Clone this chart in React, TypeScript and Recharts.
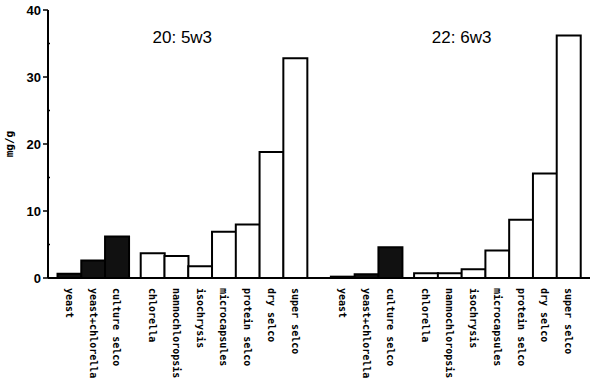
import { BarChart, Bar, XAxis, YAxis, Cell, ReferenceDot } from "recharts";

const diets = [
  "yeast",
  "yeast+chlorella",
  "culture selco",
  "chlorella",
  "nannochloropsis",
  "isochrysis",
  "microcapsules",
  "protein selco",
  "dry selco",
  "super selco",
];
const epa = [0.65, 2.6, 6.2, 3.7, 3.3, 1.75, 6.9, 8.0, 18.8, 32.8];
const dha = [0.2, 0.55, 4.6, 0.7, 0.7, 1.3, 4.1, 8.7, 15.6, 36.2];
const panelTitles = ["20: 5w3", "22: 6w3"];
const titleSlots = [4.75, 16.5];
const yTicks = [0, 5, 10, 15, 20, 25, 30, 35, 40];

// slot index per bar: half-bar gap after the 3 live feeds, full bar gap between panels
const rows = [epa, dha].flatMap((vals, g) =>
  vals.map((v, i) => ({
    pos: g * 11.5 + i + (i >= 3 ? 0.5 : 0),
    name: diets[i],
    value: v,
    live: i < 3,
  }))
);

const DietTick = ({ x, y, payload }: any) => {
  const row = rows.find((r) => r.pos === payload.value);
  return (
    <text
      transform={`translate(${x},${y + 10}) rotate(90)`}
      textAnchor="start"
      dominantBaseline="central"
      fontFamily="DejaVu Sans Mono"
      fontWeight="bold"
      fontSize={10}
      fill="#000"
    >
      {row?.name}
    </text>
  );
};

const ValueTick = ({ x, y, payload }: any) => {
  if (payload.value % 10 !== 0) {
    return <line x1={x} x2={x + 2} y1={y} y2={y} stroke="#000" strokeWidth={1.5} />;
  }
  return (
    <g>
      <line x1={x - 5} x2={x} y1={y} y2={y} stroke="#000" strokeWidth={1.5} />
      <text
        x={x - 7}
        y={y}
        textAnchor="end"
        dominantBaseline="central"
        fontFamily="Liberation Sans"
        fontWeight="bold"
        fontSize={13}
        fill="#000"
      >
        {payload.value}
      </text>
    </g>
  );
};

const UnitLabel = ({ viewBox }: any) => {
  const cy = viewBox.y + viewBox.height / 2;
  return (
    <text
      transform={`translate(9,${cy}) rotate(-90)`}
      textAnchor="middle"
      dominantBaseline="central"
      fontFamily="DejaVu Sans Mono"
      fontWeight="bold"
      fontSize={11}
      fill="#000"
    >
      mg/g
    </text>
  );
};

export default function App() {
  return (
    <div style={{ position: "absolute", left: 0, top: 0, background: "#fff" }}>
      <BarChart
        width={600}
        height={382}
        data={rows}
        margin={{ top: 10, right: 10, bottom: 0, left: 0 }}
        barCategoryGap={0}
      >
        <XAxis
          dataKey="pos"
          type="number"
          domain={[-0.9, 21.9]}
          ticks={rows.map((r) => r.pos)}
          interval={0}
          tick={<DietTick />}
          tickLine={false}
          tickSize={0}
          tickMargin={0}
          height={104}
          axisLine={{ stroke: "#000", strokeWidth: 2 }}
        />
        <XAxis
          xAxisId="top"
          orientation="top"
          type="number"
          domain={[-0.9, 21.9]}
          height={0}
          tick={false}
          tickLine={false}
          axisLine={{ stroke: "#000", strokeWidth: 2 }}
        />
        <YAxis
          type="number"
          domain={[0, 40]}
          ticks={yTicks}
          interval={0}
          width={48}
          tick={<ValueTick />}
          tickLine={false}
          tickSize={0}
          tickMargin={0}
          axisLine={{ stroke: "#000", strokeWidth: 2 }}
          label={<UnitLabel />}
        />
        <YAxis
          yAxisId="right"
          orientation="right"
          type="number"
          domain={[0, 40]}
          width={0}
          tick={false}
          tickLine={false}
          axisLine={{ stroke: "#000", strokeWidth: 2 }}
        />
        <Bar dataKey="value" stroke="#000" strokeWidth={2} isAnimationActive={false}>
          {rows.map((r) => (
            <Cell key={r.pos} fill={r.live ? "#111" : "#fff"} />
          ))}
        </Bar>
        {panelTitles.map((t, i) => (
          <ReferenceDot
            key={t}
            x={titleSlots[i]}
            y={36}
            r={0}
            fill="none"
            stroke="none"
            label={{
              value: t,
              position: "center",
              fontFamily: "Liberation Sans",
              fontSize: 17,
              fill: "#000",
            }}
          />
        ))}
      </BarChart>
    </div>
  );
}
